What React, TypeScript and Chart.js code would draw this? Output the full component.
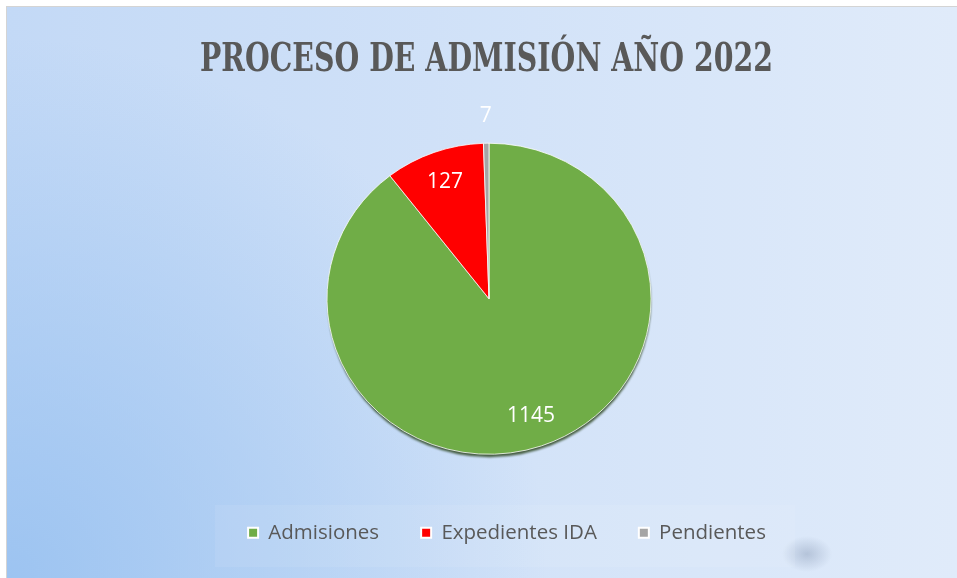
import React, { useEffect, useRef } from "react";
import { Chart, registerables } from "chart.js";

Chart.register(...registerables);

const TITLE = "PROCESO DE ADMISIÓN AÑO 2022";
const CATEGORIES = ["Admisiones", "Expedientes IDA", "Pendientes"];
const VALUES = [1145, 127, 7];
const COLORS = ["#70ad47", "#ff0000", "#a5a5a5"];

const CANVAS_W = 950;
const CANVAS_H = 571;
const SQUASH = 0.96;

export default function App() {
  const ref = useRef<HTMLCanvasElement | null>(null);

  useEffect(() => {
    const canvas = ref.current;
    if (!canvas) return;

    const bgPlugin = {
      id: "bgPlugin",
      beforeDraw(chart: any) {
        const { ctx, width, height } = chart;
        ctx.save();
        const lg = ctx.createLinearGradient(0, 0, width, 0);
        lg.addColorStop(0, "#c3d9f6");
        lg.addColorStop(1, "#e0ebfa");
        ctx.fillStyle = lg;
        ctx.fillRect(0, 0, width, height);
        const rg = ctx.createRadialGradient(0, height, 0, 0, height, 540);
        rg.addColorStop(0, "rgba(150,192,240,0.85)");
        rg.addColorStop(1, "rgba(150,192,240,0)");
        ctx.fillStyle = rg;
        ctx.fillRect(0, 0, width, height);

        // legend backdrop with soft shadow on its right end
        ctx.save();
        ctx.translate(800, 547);
        ctx.scale(1.4, 1);
        const sg = ctx.createRadialGradient(0, 0, 0, 0, 0, 18);
        sg.addColorStop(0, "rgba(80,100,135,0.28)");
        sg.addColorStop(1, "rgba(80,100,135,0)");
        ctx.fillStyle = sg;
        ctx.fillRect(-20, -20, 40, 40);
        ctx.restore();
        ctx.fillStyle = "rgba(255,255,255,0.08)";
        ctx.fillRect(208, 498, 580, 62);

        // title
        const ca = chart.chartArea;
        const cx = (ca.left + ca.right) / 2 - 2.5;
        ctx.font = "bold 40px 'DejaVu Serif', 'Liberation Serif', serif";
        const tw = ctx.measureText(TITLE).width;
        const sx = Math.min(1, 573 / tw);
        ctx.translate(cx, 64);
        ctx.scale(sx, 1);
        ctx.textAlign = "center";
        ctx.textBaseline = "alphabetic";
        ctx.fillStyle = "#595959";
        ctx.fillText(TITLE, 0, 0);
        ctx.restore();
      },
    };

    const pieFx = {
      id: "pieFx",
      beforeDatasetsDraw(chart: any) {
        const arc = chart.getDatasetMeta(0).data[0];
        const ctx = chart.ctx;
        const { x, y, outerRadius } = arc.getProps(["x", "y", "outerRadius"], true);
        ctx.save();
        ctx.translate(x, y);
        ctx.scale(1, SQUASH);
        ctx.translate(-x, -y);
        // soft drop shadow of the pie
        ctx.save();
        ctx.filter = "blur(1px)";
        ctx.fillStyle = "rgba(35,60,20,0.8)";
        ctx.beginPath();
        ctx.arc(x + 0.5, y + 3.5, outerRadius - 0.5, 0, Math.PI * 2);
        ctx.fill();
        ctx.restore();
      },
      afterDatasetsDraw(chart: any) {
        const ctx = chart.ctx;
        ctx.restore();
        const meta = chart.getDatasetMeta(0);
        const data: number[] = chart.data.datasets[0].data;
        const total = data.reduce((a, b) => a + b, 0);
        ctx.save();
        ctx.font = "21px 'Open Sans', sans-serif";
        ctx.fillStyle = "#ffffff";
        ctx.textAlign = "center";
        ctx.textBaseline = "middle";
        meta.data.forEach((el: any, i: number) => {
          const { x, y, startAngle, endAngle, outerRadius } = el.getProps(
            ["x", "y", "startAngle", "endAngle", "outerRadius"],
            true
          );
          const mid = (startAngle + endAngle) / 2;
          const small = data[i] / total < 0.02;
          const d = small ? outerRadius + 28 : outerRadius * 0.8;
          const px = x + Math.cos(mid) * d;
          const py = y + Math.sin(mid) * d * SQUASH;
          ctx.fillText(String(data[i]), px, py);
        });
        ctx.restore();
      },
    };

    const chart = new Chart(canvas, {
      type: "pie",
      data: {
        labels: CATEGORIES,
        datasets: [
          {
            data: VALUES,
            backgroundColor: COLORS,
            borderColor: "rgba(255,255,255,0.8)",
            borderWidth: 1,
            radius: 162,
          } as any,
        ],
      },
      options: {
        responsive: false,
        animation: false,
        radius: 162,
        layout: { padding: { left: 50, right: 0, top: 110, bottom: 25 } },
        plugins: {
          title: {
            display: true,
            position: "right",
            text: "",
            fullSize: false,
            padding: 12,
            font: { size: 10 },
          },
          tooltip: { enabled: false },
          legend: {
            position: "bottom",
            align: "center",
            labels: {
              boxWidth: 10,
              boxHeight: 10,
              padding: 42,
              color: "#595959",
              font: { family: "'Open Sans', sans-serif", size: 20.5 },
              generateLabels: (c: any) => {
                const base = (Chart as any).overrides.pie.plugins.legend.labels.generateLabels(c);
                return base.map((it: any) => ({
                  ...it,
                  strokeStyle: "#ffffff",
                  lineWidth: 2,
                  fontColor: "#595959",
                }));
              },
            },
          },
        },
      } as any,
      plugins: [bgPlugin, pieFx],
    });

    return () => chart.destroy();
  }, []);

  return (
    <div
      style={{
        position: "fixed",
        left: 6,
        top: 6,
        width: CANVAS_W + 1,
        height: CANVAS_H + 1,
        borderLeft: "1px solid #d4d4d4",
        borderTop: "1px solid #d4d4d4",
        boxSizing: "border-box",
        background: "#ffffff",
      }}
    >
      <canvas ref={ref} width={CANVAS_W} height={CANVAS_H} style={{ display: "block" }} />
    </div>
  );
}
